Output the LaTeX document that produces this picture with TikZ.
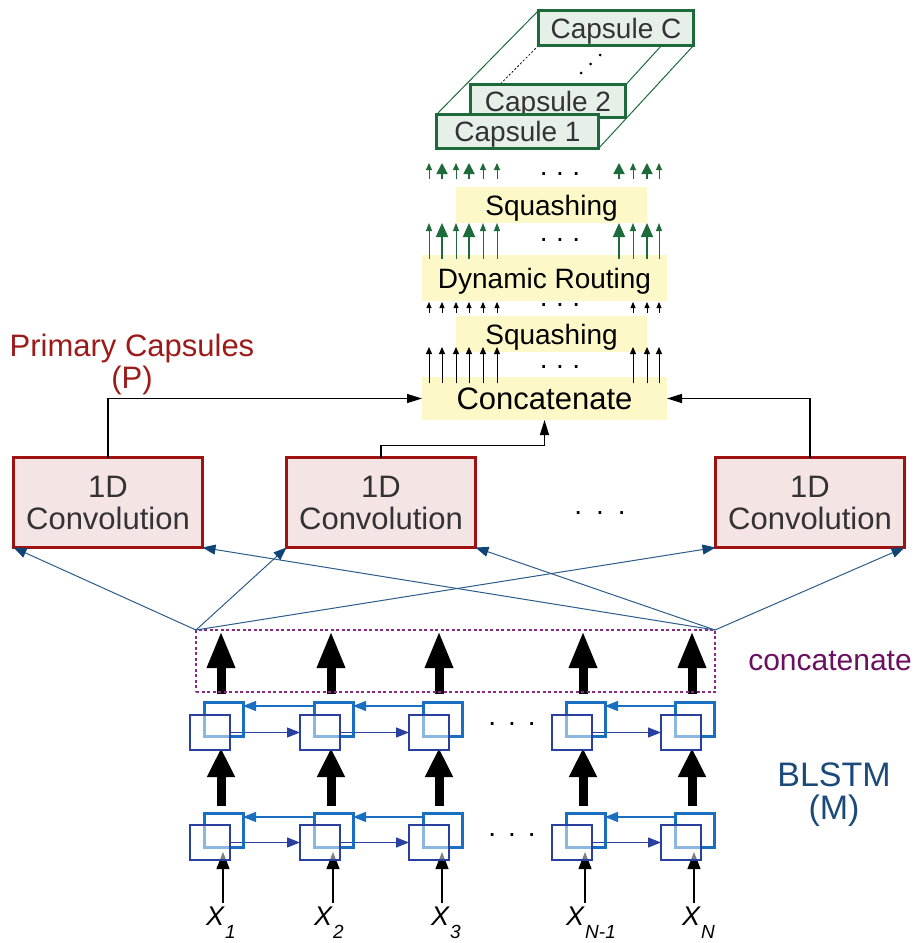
\documentclass[tikz,border=0pt]{standalone}
\usepackage{fontspec}
\setmainfont{Liberation Sans}
\usetikzlibrary{arrows.meta,backgrounds}

\definecolor{capgreen}{HTML}{1D6B3A}
\definecolor{capfill}{HTML}{E6EFE8}
\definecolor{opfill}{HTML}{FDF8C8}
\definecolor{convred}{HTML}{A01212}
\definecolor{convfill}{HTML}{F5E4E4}
\definecolor{labred}{HTML}{9C1A1A}
\definecolor{linkblue}{HTML}{2B5C8A}
\definecolor{tipblue}{HTML}{0F4477}
\definecolor{catpurple}{HTML}{8B2B7F}
\definecolor{catlabel}{HTML}{6A1060}
\definecolor{fwdblue}{HTML}{2A40A0}
\definecolor{bwdblue}{HTML}{1A6FC0}
\definecolor{lstmlabel}{HTML}{1B4A7A}
\definecolor{boxtext}{HTML}{333333}

\newcommand{\fs}[1]{\fontsize{#1}{#1}\selectfont}
% three dots with a chosen gap between them
\newcommand{\dotrow}[1]{.\hspace{#1}.\hspace{#1}.}
% input label X with a lowered subscript
\newcommand{\xin}[1]{\itshape X\hspace{1pt}\raisebox{-13pt}{\fs{19}#1}}

\begin{document}
\begin{tikzpicture}[x=1pt,y=-1pt,
  capsule/.style={draw=capgreen,line width=3pt,fill=capfill,text=boxtext,
    inner sep=0pt,outer sep=0pt,font=\fs{28},text height=20pt,text depth=0pt},
  opbox/.style={fill=opfill,inner sep=0pt,outer sep=0pt,font=\fs{28},
    text height=20pt,text depth=0pt},
  convbox/.style={draw=convred,line width=3pt,fill=convfill,text=boxtext,
    minimum width=189pt,minimum height=90pt,inner sep=0pt,outer sep=0pt,
    align=center,font=\fontsize{31}{32}\selectfont},
  edge3d/.style={capgreen,line width=1pt},
  gsmall/.style={capgreen,line width=1pt,-{Triangle[width=6pt,length=7pt]}},
  gbig/.style={capgreen,line width=1.8pt,-{Triangle[width=11pt,length=11pt]}},
  gsmallb/.style={capgreen,line width=1pt,-{Triangle[width=6pt,length=8pt]}},
  gbigb/.style={capgreen,line width=1.8pt,-{Triangle[width=12pt,length=14pt]}},
  ktiny/.style={black,line width=0.8pt,-{Triangle[width=5pt,length=6pt]}},
  kthin/.style={black,line width=1pt,-{Triangle[width=6pt,length=7pt]}},
  feed/.style={black,line width=1.2pt,-{Triangle[width=9pt,length=15pt]}},
  link/.style={linkblue,line width=1pt,
    -{Triangle[width=10pt,length=13pt,fill=tipblue,color=tipblue]}},
  bigtop/.style={black,line width=9pt,-{Triangle[width=26pt,length=37pt]}},
  bigmid/.style={black,line width=9pt,-{Triangle[width=26pt,length=29pt]}},
  inarrow/.style={black,line width=1.2pt,-{Triangle[width=13pt,length=17pt]}},
  fwd/.style={fwdblue,line width=1.2pt,-{Triangle[width=10pt,length=13pt]}},
  bwd/.style={bwdblue,line width=1.2pt,-{Triangle[width=10pt,length=13pt]}},
  backcell/.style={draw=bwdblue,line width=3pt,minimum width=39pt,
    minimum height=34pt,inner sep=0pt,outer sep=0pt},
  frontcell/.style={draw=fwdblue,line width=2pt,fill=white,fill opacity=0.5,
    draw opacity=1,minimum width=40pt,minimum height=35pt,inner sep=0pt,outer sep=0pt},
  dots/.style={font=\fs{28},inner sep=0pt,anchor=base},
  xlabel/.style={font=\fs{27},inner sep=0pt,anchor=base west}
]
\useasboundingbox (0,0) rectangle (917,943);

% ---------- output capsules (stacked box) ----------
\node[capsule,minimum width=155pt,minimum height=35pt] (capC) at (616,28) {Capsule C};
\node[capsule,minimum width=155pt,minimum height=33pt] (cap2) at (548,101) {Capsule 2};
\node[capsule,minimum width=162pt,minimum height=34pt] (cap1) at (517.5,131.5) {Capsule 1};
\begin{scope}[on background layer]
  \draw[edge3d] (cap1.north west) -- (capC.north west);
  \draw[edge3d] (cap1.north east) -- (capC.north east);
  \draw[edge3d] (cap1.south east) -- (capC.south east);
  \draw[black,line width=0.8pt,dash pattern=on 2pt off 2pt] (capC.south west) -- (cap1.south west);
\end{scope}
% depth dots between Capsule 2 and Capsule C
\foreach \p in {(600,55),(590.5,64),(581,73)} \fill[black] \p circle (1.5pt);

% ---------- capsule operations ----------
\node[opbox,minimum width=191pt,minimum height=36pt] (sqtop) at (551.5,205) {Squashing};
\node[opbox,minimum width=245pt,minimum height=46pt] (route) at (544.5,278) {Dynamic Routing};
\node[opbox,minimum width=191pt,minimum height=36pt] (sqbot) at (551.5,334) {Squashing};
\node[opbox,minimum width=245pt,minimum height=43pt,font=\fs{31},text height=22pt] (concat) at (544.5,398.5) {Concatenate};

% arrows between the operation stages
\foreach \x in {429,456,483,497,633,659} \draw[gsmall] (\x,179) -- (\x,163);
\foreach \x in {442,469,619,647} \draw[gbig] (\x,179) -- (\x,163);
\foreach \x in {429,456,483,497,633,659} \draw[gsmallb] (\x,259) -- (\x,223);
\foreach \x in {442,469,619,647} \draw[gbigb] (\x,259) -- (\x,223);
\foreach \x in {429,442,456,469,483,497,633,647,659} \draw[ktiny] (\x,313) -- (\x,302);
\foreach \x in {429,442,456,469,483,497,633,647,659} \draw[kthin] (\x,383) -- (\x,347);
\node[dots] (d1) at (560,175.5) {\dotrow{8.5pt}};
\node[dots] (d2) at (560,241.5) {\dotrow{8.5pt}};
\node[dots] (d3) at (560,306.5) {\dotrow{8.5pt}};
\node[dots] (d4) at (560,368) {\dotrow{8.5pt}};

% ---------- primary capsules ----------
\node[text=labred,align=center,font=\fontsize{31}{32}\selectfont,inner sep=0pt] (plabel) at (132,364) {Primary Capsules\\(P)};
\node[convbox] (conv1) at (108,502.5) {1D\\Convolution};
\node[convbox] (conv2) at (381,502.5) {1D\\Convolution};
\node[convbox] (conv3) at (810,502.5) {1D\\Convolution};
\node[dots] (d5) at (600,514.5) {\dotrow{14pt}};

\draw[feed] (conv1.north) |- (concat.west);
\draw[feed] (conv3.north) |- (concat.east);
\draw[feed] (conv2.north) -- ++(0,-12) -| (concat.south);

% ---------- concatenation of BLSTM outputs ----------
\node[draw=catpurple,line width=1.2pt,dash pattern=on 3pt off 2.5pt,
      minimum width=519pt,minimum height=62pt,inner sep=0pt,outer sep=0pt] (catbox) at (455.5,661) {};
\node[text=catlabel,font=\fs{30},inner sep=0pt,anchor=base] (catlab) at (830,670) {concatenate};

\foreach \c in {conv1,conv2,conv3} {
  \draw[link] (catbox.north west) -- (\c.south west);
  \draw[link] (catbox.north east) -- (\c.south east);
}

% ---------- BLSTM cells ----------
\foreach \i/\fx in {1/189,2/299,3/408,4/551,5/660} {
  \node[backcell] (ub\i) at ({\fx+34.5},719.5) {};
  \node[backcell] (lb\i) at ({\fx+34.5},830.5) {};
}
\foreach \i/\fx in {1/189,2/299,3/408,4/551,5/660} {
  \node[frontcell] (uf\i) at ({\fx+21},732.5) {};
  \node[frontcell] (lf\i) at ({\fx+21},842.5) {};
}
\begin{scope}[on background layer]
  \foreach \x in {221,331,439,583,692} {
    \draw[bigtop] (\x,694) -- (\x,631);
    \draw[bigmid] (\x,806) -- (\x,748);
  }
  \foreach \x in {223,333,442,585,694} \draw[inarrow] (\x,903) -- (\x,852);
  \foreach \a/\b in {1/2,2/3,4/5} {
    \draw[fwd] (uf\a.east) -- (uf\b.west);
    \draw[fwd] (lf\a.east) -- (lf\b.west);
    \draw[bwd] ([yshift=13.5pt]ub\b.west) -- ([yshift=13.5pt]ub\a.east);
    \draw[bwd] ([yshift=13.5pt]lb\b.west) -- ([yshift=13.5pt]lb\a.east);
  }
\end{scope}
\node[dots] (d6) at (512,725.5) {\dotrow{12pt}};
\node[dots] (d7) at (512,836.5) {\dotrow{12pt}};

\node[text=lstmlabel,align=center,font=\fontsize{34}{33}\selectfont,inner sep=0pt] (mlabel) at (834,795) {BLSTM\\(M)};

% ---------- inputs ----------
\node[xlabel] (x1) at (206,925) {\xin{1}};
\node[xlabel] (x2) at (314,925) {\xin{2}};
\node[xlabel] (x3) at (431,925) {\xin{3}};
\node[xlabel] (xn1) at (566,925) {\xin{N-1}};
\node[xlabel] (xn) at (682,925) {\xin{N}};
\end{tikzpicture}
\end{document}
